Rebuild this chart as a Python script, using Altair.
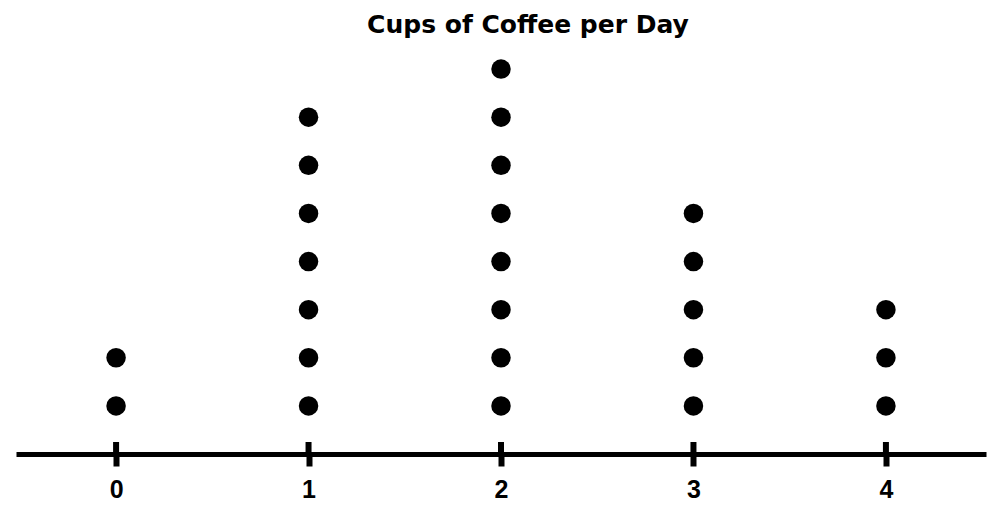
import altair as alt
import pandas as pd

# Data
cups = [0, 1, 2, 3, 4]
counts = [2, 7, 8, 5, 3]
title_text = "Cups of Coffee per Day"

rows = [{"cups": c, "n": k} for c, n in zip(cups, counts) for k in range(1, n + 1)]
dots_df = pd.DataFrame(rows)
ticks_df = pd.DataFrame({"cups": cups, "lo": [0.0] * len(cups), "hi": [0.25] * len(cups)})

TITLE_FONT = "DejaVu Sans"
LABEL_FONT = "Liberation Sans"

x_scale = alt.Scale(domain=[-0.52, 4.52], nice=False, zero=False)
y_scale = alt.Scale(domain=[0, 8.5], nice=False, zero=True)

x_axis = alt.Axis(
    values=cups,
    format="d",
    title=None,
    grid=False,
    domain=True,
    domainColor="black",
    domainWidth=5,
    ticks=True,
    tickColor="black",
    tickWidth=6,
    tickSize=12,
    labelFont=LABEL_FONT,
    labelFontWeight="bold",
    labelFontSize=25,
    labelColor="black",
    labelPadding=11,
)

dots = alt.Chart(dots_df).mark_circle(size=380, color="black", opacity=1).encode(
    x=alt.X("cups:Q", scale=x_scale, axis=x_axis),
    y=alt.Y("n:Q", scale=y_scale, axis=None),
)

upper_ticks = alt.Chart(ticks_df).mark_rule(color="black", strokeWidth=6).encode(
    x=alt.X("cups:Q", scale=x_scale, axis=x_axis),
    y=alt.Y("lo:Q", scale=y_scale, axis=None),
    y2="hi:Q",
)

chart = (
    alt.layer(upper_ticks, dots)
    .properties(
        width=970,
        height=409,
        padding={"left": 8, "top": 5, "right": 5, "bottom": 5},
        title=alt.TitleParams(
            text=title_text,
            font=TITLE_FONT,
            fontSize=25,
            fontWeight="bold",
            color="black",
            anchor="middle",
            dx=27,
            offset=7,
        ),
    )
    .configure_view(stroke=None)
)

chart.save("out.html", embed_options={"renderer": "svg", "actions": False})
